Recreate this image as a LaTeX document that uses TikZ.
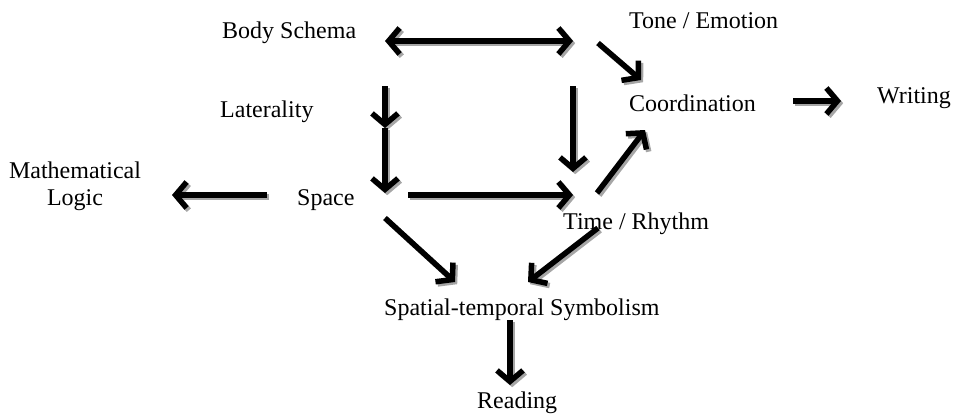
\documentclass[tikz,border=0pt]{standalone}
\usepackage{fontspec}
\setmainfont{Liberation Serif}
\usetikzlibrary{arrows.meta}
\begin{document}
\begin{tikzpicture}[x=1pt,y=-1pt,
  lbl/.style={anchor=base west,inner sep=0pt,font=\fontsize{24}{27}\selectfont},
  arr/.style={line width=5.5pt,-{Straight Barb[length=11pt,width=26pt]},
    preaction={draw=black!35,line width=5.5pt,
      -{Straight Barb[length=11pt,width=26pt]},
      transform canvas={shift={(2.2pt,-2.2pt)}}}},
  darr/.style={line width=5.5pt,
    {Straight Barb[length=11pt,width=26pt]}-{Straight Barb[length=11pt,width=26pt]},
    preaction={draw=black!35,line width=5.5pt,
      {Straight Barb[length=11pt,width=26pt]}-{Straight Barb[length=11pt,width=26pt]},
      transform canvas={shift={(2.2pt,-2.2pt)}}}}]
\useasboundingbox (0,0) rectangle (969,413);

% labels
\node[lbl] (body)  at (222,38)  {Body Schema};
\node[lbl] (tone)  at (629,28)  {Tone / Emotion};
\node[lbl] (coord) at (629,111) {Coordination};
\node[lbl] (write) at (877,103) {Writing};
\node[lbl] (lat)   at (220,117) {Laterality};
\node[lbl] (space) at (297,205) {Space};
\node[lbl,align=center,anchor=base] (math) at (75,205) {Mathematical\\Logic};
\node[lbl] (time)  at (563,229) {Time / Rhythm};
\node[lbl] (sym)   at (384,315) {Spatial-temporal Symbolism};
\node[lbl] (read)  at (477,408) {Reading};

% connector end points
\coordinate (sqNW)  at (385,41);
\coordinate (sqNE)  at (573,41);
\coordinate (latTop) at (385,86);
\coordinate (latMid) at (385,128);
\coordinate (latBot) at (385,193);
\coordinate (neBot)  at (573,172);
\coordinate (spE)   at (408,195);
\coordinate (tmW)   at (573,195);
\coordinate (toneA) at (598,43);
\coordinate (toneB) at (641,80);
\coordinate (tmNE)  at (597,193);
\coordinate (coNE)  at (645,130);
\coordinate (coE)   at (793,101);
\coordinate (wrW)   at (841,101);
\coordinate (spW)   at (267,195);
\coordinate (mlE)   at (172,195);
\coordinate (spSE)  at (385,218);
\coordinate (syNW)  at (455,282);
\coordinate (tmSW)  at (598,228);
\coordinate (syNE)  at (528,282);
\coordinate (syS)   at (510,320);
\coordinate (rdN)   at (510,385);

% connectors
\draw[darr] (sqNW) -- (sqNE);
\draw[arr] (latTop) -- (latMid);
\draw[arr] (latMid) -- (latBot);
\draw[arr] (sqNE |- latTop) -- (neBot);
\draw[arr] (spE) -- (tmW);
\draw[arr] (toneA) -- (toneB);
\draw[arr] (tmNE) -- (coNE);
\draw[arr] (coE) -- (wrW);
\draw[arr] (spW) -- (mlE);
\draw[arr] (spSE) -- (syNW);
\draw[arr] (tmSW) -- (syNE);
\draw[arr] (syS) -- (rdN);
\end{tikzpicture}
\end{document}
